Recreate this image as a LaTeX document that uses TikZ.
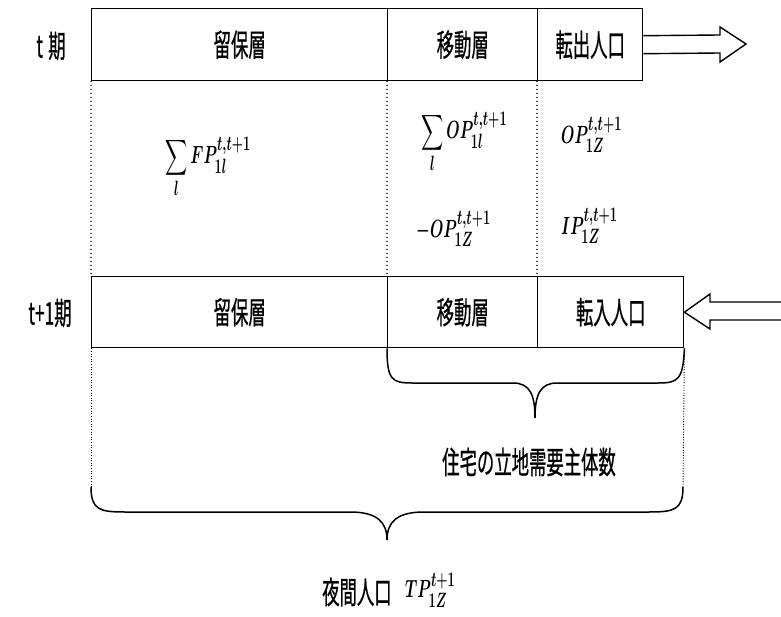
\documentclass[tikz,border=0pt]{standalone}
\usepackage{amsmath}
\usepackage{fontspec}
\newfontfamily\cjk[FakeBold=0.9]{Noto Sans CJK JP}
\usetikzlibrary{calc}
\newcommand\jtxt[1]{\scalebox{0.56}[1]{\cjk #1}}
\newcommand\mtxt[1]{\scalebox{0.62}[1]{\boldmath$#1$}}
\tikzset{
  cell/.style={draw, line width=1.4pt, anchor=north west, inner sep=0pt, minimum height=72pt,
    font=\fontsize{31}{34}\selectfont},
  lbl/.style={inner sep=0pt, font=\fontsize{31}{34}\selectfont},
  mlbl/.style={inner sep=0pt, anchor=west, font=\fontsize{31}{34}\selectfont},
  dotline/.style={line width=1.7pt, line cap=round, dash pattern=on 0pt off 4pt},
  fineline/.style={line width=0.9pt, dash pattern=on 1pt off 1.6pt},
  fatarrow/.style={line width=1.4pt, line join=miter},
  bracepath/.style={line width=1.5pt}
}
\begin{document}
\begin{tikzpicture}[x=1pt,y=-1pt]
\useasboundingbox (0,0) rectangle (781,617);
% top row (t)
\node[cell, minimum width=296pt] (t1) at (91,8) {\jtxt{留保層}};
\node[cell, minimum width=150pt] (t2) at (387,8) {\jtxt{移動層}};
\node[cell, minimum width=105pt] (t3) at (537,8) {\jtxt{転出人口}};
\node[lbl] (tl) at (51,46) {\jtxt{t\hspace{0.3em}期}};
% bottom row (t+1)
\node[cell, minimum width=296pt, minimum height=71pt] (b1) at (91,276) {\jtxt{留保層}};
\node[cell, minimum width=150pt, minimum height=71pt] (b2) at (387,276) {\jtxt{移動層}};
\node[cell, minimum width=146pt, minimum height=71pt] (b3) at (537,276) {\jtxt{転入人口}};
\node[lbl] (bl) at (50,313) {\jtxt{t+1期}};
% out arrow
\coordinate (oa) at ($(t3.east)+(0,-9)$);
\coordinate (ob) at ($(t3.east)+(0,9)$);
\draw[fatarrow] (oa) -- (720,35) -- (720,27) -- (746,44) -- (720,62) -- (720,53) -- (ob);
% in arrow
\coordinate (ia) at (b3.east);
\draw[fatarrow] (781,302) -- (710,302) -- (710,294) -- (ia) -- (710,329) -- (710,320) -- (781,320);
% dotted separators between rows
\draw[dotline] (t1.south west) -- (b1.north west);
\draw[dotline] (t2.south west) -- (b2.north west);
\draw[dotline] (t3.south west) -- (b3.north west);
% formulas
\node[mlbl] (f1) at (165,168) {\mtxt{\displaystyle\sum_{l} FP_{1l}^{t,t+1}}};
\node[mlbl] (f2) at (421,143) {\mtxt{\displaystyle\sum_{l} OP_{1l}^{t,t+1}}};
\node[mlbl] (f3) at (416,229) {\mtxt{-OP_{1Z}^{t,t+1}}};
\node[mlbl] (f4) at (561,135) {\mtxt{OP_{1Z}^{t,t+1}}};
\node[mlbl] (f5) at (561,226) {\mtxt{IP_{1Z}^{t,t+1}}};
% small brace
\draw[bracepath] (b2.south west) .. controls (387,380) and (392,383) .. (412,383) -- (513,383)
  .. controls (530,383) and (535,395) .. (535,418)
  .. controls (535,395) and (540,383) .. (557,383) -- (658,383)
  .. controls (678,383) and (683,380) .. (b3.south east);
\node[lbl] (demand) at (529,462) {\jtxt{住宅の立地需要主体数}};
% lower dotted lines and big brace
\coordinate (bl1) at (91,487);
\coordinate (br1) at (683,487);
\draw[fineline] (b1.south west) -- (bl1);
\draw[fineline] (b3.south east) -- (br1);
\draw[bracepath] (bl1) .. controls (91,510) and (100,512) .. (125,512) -- (350,512)
  .. controls (377,512) and (387,522) .. (387,540)
  .. controls (387,522) and (397,512) .. (424,512) -- (649,512)
  .. controls (674,512) and (683,510) .. (br1);
\node[lbl, anchor=west] (night) at (322,592) {\jtxt{夜間人口}};
\node[mlbl] (tp) at (405,590) {\mtxt{TP_{1Z}^{t+1}}};
\end{tikzpicture}
\end{document}
